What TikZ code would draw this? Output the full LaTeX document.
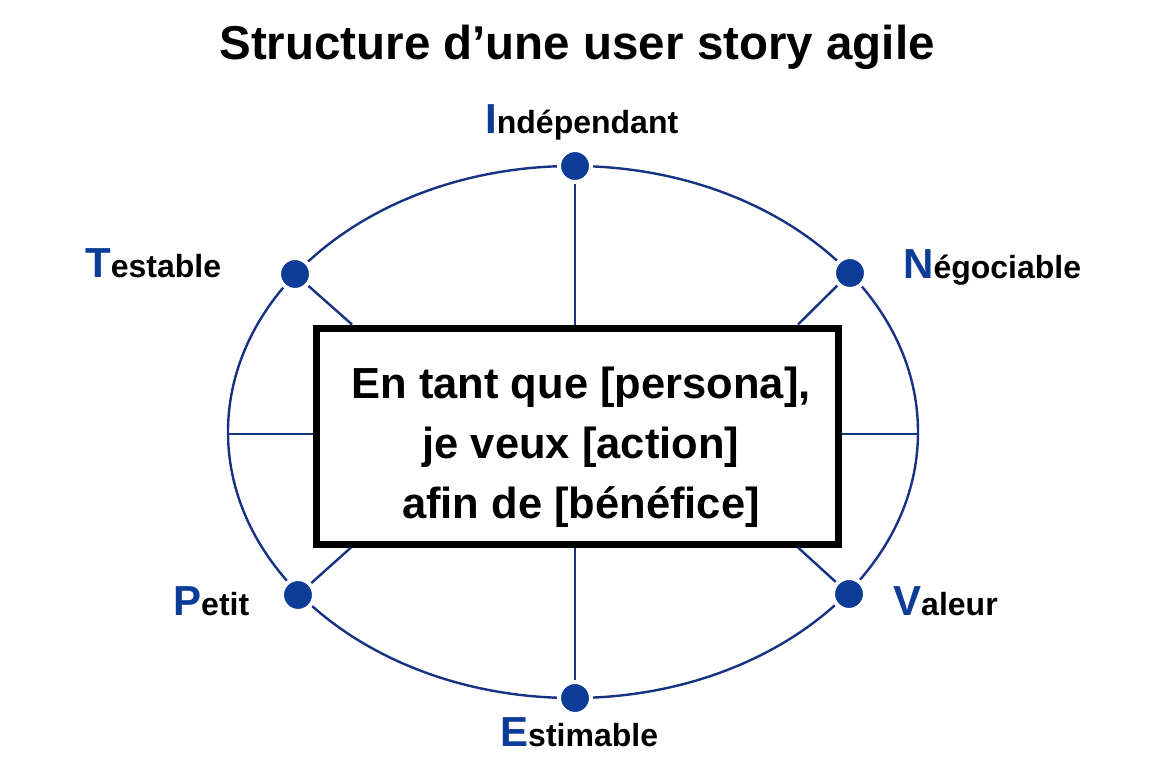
\documentclass[tikz,border=0pt]{standalone}
\usepackage{fontspec}
\setmainfont{Liberation Sans}
\definecolor{invblue}{RGB}{12,60,150}
\definecolor{invline}{RGB}{22,50,130}
\tikzset{
  critdot/.style={circle,fill=invblue,draw=white,line width=4pt,minimum size=32pt,inner sep=0pt},
  spoke/.style={draw=invline,line width=2.4pt},
  critlabel/.style={anchor=base west,inner sep=0pt,font=\bfseries\fontsize{32}{32}\selectfont},
}
\newcommand{\critletter}[2]{{\color{invblue}\fontsize{42}{42}\selectfont #1}#2}
\begin{document}
\begin{tikzpicture}[x=1pt,y=1pt,yscale=-1]
        \useasboundingbox (0,0) rectangle (1152,768);

        % Title
        \node (title) [anchor=base,font=\bfseries\fontsize{47.5}{48}\selectfont] at (577,60) {Structure d’une user story agile};

        % Ellipse
        \draw [spoke] (573,432) ellipse [x radius=345, y radius=266];

        % Box
        \node (box) [draw,fill=white,line width=7pt,inner sep=0pt,minimum width=522pt,minimum height=216pt] at (577,436) {};

        % Dots on the ellipse
        \node (I) [critdot] at (575,166) {};
        \node (N) [critdot] at (850,273) {};
        \node (T) [critdot] at (295,274) {};
        \node (P) [critdot] at (298,595) {};
        \node (V) [critdot] at (849,594) {};
        \node (E) [critdot] at (575,698) {};

        % free ends
        \coordinate (L) at (228,434);
        \coordinate (R) at (918,434);
        \coordinate (tT) at (352,324.5);
        \coordinate (tN) at (798,324.5);
        \coordinate (tP) at (351,547.5);
        \coordinate (tV) at (798,547.5);

        % Spokes
        \draw [spoke] (I) -- (I |- box.north);
        \draw [spoke] (E) -- (E |- box.south);
        \draw [spoke] (L) -- (L -| box.west);
        \draw [spoke] (R) -- (R -| box.east);
        \draw [spoke] (T) -- (tT);
        \draw [spoke] (N) -- (tN);
        \draw [spoke] (P) -- (tP);
        \draw [spoke] (V) -- (tV);

        % Story text
        \node (story) [align=center,font=\bfseries\fontsize{43.5}{60}\selectfont] at (581,447) {En tant que [persona],\\je veux [action]\\afin de [bénéfice]};

        % Labels
        \node (lI) [critlabel] at (485,133) {\critletter{I}{ndépendant}};
        \node (lN) [critlabel] at (903,278) {\critletter{N}{égociable}};
        \node (lT) [critlabel] at (85,277) {\critletter{T}{estable}};
        \node (lP) [critlabel] at (173,615) {\critletter{P}{etit}};
        \node (lV) [critlabel] at (893,615) {\critletter{V}{aleur}};
        \node (lE) [critlabel] at (500,746) {\critletter{E}{stimable}};
\end{tikzpicture}
\end{document}
